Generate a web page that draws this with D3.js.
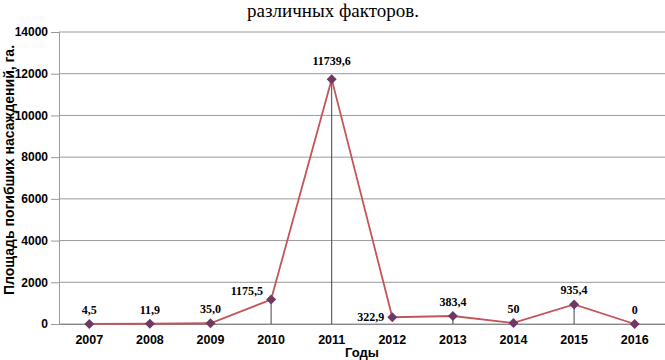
<!DOCTYPE html>
<html>
<head>
<meta charset="utf-8">
<script src="https://cdn.jsdelivr.net/npm/d3@7"></script>
<style>
  body { margin: 0; background: #fff; }
  svg { display: block; }
</style>
</head>
<body>
<svg id="chart" width="665" height="360"></svg>
<script>
// years and area of dead stands
var years = ["2007", "2008", "2009", "2010", "2011", "2012", "2013", "2014", "2015", "2016"];
var areas = [4.5, 11.9, 35.0, 1175.5, 11739.6, 322.9, 383.4, 50, 935.4, 0];
var labels = ["4,5", "11,9", "35,0", "1175,5", "11739,6", "322,9", "383,4", "50", "935,4", "0"];
var yTicks = [0, 2000, 4000, 6000, 8000, 10000, 12000, 14000];
var dropYears = ["2010", "2011", "2013", "2015"]; // years with a vertical line

var svg = d3.select("#chart");
var plotLeft = 59, plotRight = 665, plotTop = 32, plotBottom = 324;

var x = d3.scaleBand().domain(years).range([plotLeft, plotRight]);
var y = d3.scaleLinear().domain([0, 14000]).range([plotBottom, plotTop]);

var data = years.map(function(d, i) { return {year: d, v: areas[i], label: labels[i]}; });

// title fragment at the top
svg.append("text")
	.attr("x", 333).attr("y", 17)
	.attr("text-anchor", "middle")
	.attr("font-family", "Liberation Serif, Times New Roman, serif")
	.attr("font-size", 19)
	.text("различных факторов.");

// gridlines
svg.append("g").selectAll("line").data(yTicks).enter().append("line")
	.attr("x1", plotLeft).attr("x2", plotRight)
	.attr("y1", function(d) { return y(d); }).attr("y2", function(d) { return y(d); })
	.attr("stroke", "#9a9a9a").attr("stroke-width", 1);

// y axis
var yAxis = svg.append("g")
	.attr("transform", "translate(" + plotLeft + ",0)")
	.call(d3.axisLeft(y).tickValues(yTicks).tickFormat(d3.format("d")).tickSize(8).tickPadding(3));
yAxis.select(".domain").attr("stroke", "#9a9a9a");
yAxis.selectAll(".tick line").attr("stroke", "#9a9a9a");
yAxis.selectAll("text")
	.attr("font-family", "Liberation Sans, Arial, sans-serif")
	.attr("font-weight", "bold").attr("font-size", 12).attr("fill", "#000");

// x axis
var xAxis = svg.append("g")
	.attr("transform", "translate(0," + plotBottom + ")")
	.call(d3.axisBottom(x).tickSize(0).tickPadding(11));
xAxis.select(".domain").attr("stroke", "#888");
xAxis.selectAll("text")
	.attr("font-family", "Liberation Sans, Arial, sans-serif")
	.attr("font-weight", "bold").attr("font-size", 12.5).attr("fill", "#000");

// axis titles
svg.append("text")
	.attr("x", 362).attr("y", 357)
	.attr("text-anchor", "middle")
	.attr("font-family", "Liberation Sans, Arial, sans-serif")
	.attr("font-weight", "bold").attr("font-size", 13)
	.text("Годы");

svg.append("text")
	.attr("transform", "translate(14,170) rotate(-90)")
	.attr("text-anchor", "middle")
	.attr("font-family", "Liberation Sans, Arial, sans-serif")
	.attr("font-weight", "bold").attr("font-size", 14)
	.text("Площадь погибших насаждений, га.");

var cx = function(d) { return x(d.year) + x.bandwidth() / 2; };

// drop lines
svg.append("g").selectAll("line")
	.data(data.filter(function(d) { return dropYears.indexOf(d.year) >= 0; }))
	.enter().append("line")
	.attr("x1", cx).attr("x2", cx)
	.attr("y1", function(d) { return y(d.v); }).attr("y2", plotBottom)
	.attr("stroke", "#444").attr("stroke-width", 1);

// line
var line = d3.line()
	.x(cx).y(function(d) { return y(d.v); });

svg.append("path")
	.datum(data)
	.attr("d", line)
	.attr("fill", "none")
	.attr("stroke", "#c4545a").attr("stroke-width", 1.8);

// diamond markers (square turned 45 deg, as in Excel)
svg.append("g").selectAll("path").data(data).enter().append("path")
	.attr("transform", function(d) { return "translate(" + cx(d) + "," + y(d.v) + ") rotate(45)"; })
	.attr("d", d3.symbol().type(d3.symbolSquare).size(50))
	.attr("fill", "#6e3a64");

// data labels
svg.append("g").selectAll("text").data(data).enter().append("text")
	.attr("x", function(d) {
		if (d.year == "2010" || d.year == "2012") return cx(d) - 8;
		return cx(d);
	})
	.attr("y", function(d) {
		if (d.year == "2010") return y(d.v) - 4;
		if (d.year == "2012") return y(d.v) + 4;
		if (d.year == "2011") return y(d.v) - 14;
		return y(d.v) - 10;
	})
	.attr("text-anchor", function(d) {
		return (d.year == "2010" || d.year == "2012") ? "end" : "middle";
	})
	.attr("font-family", "Liberation Serif, Times New Roman, serif")
	.attr("font-weight", "bold").attr("font-size", 12)
	.text(function(d) { return d.label; });
</script>
</body>
</html>
